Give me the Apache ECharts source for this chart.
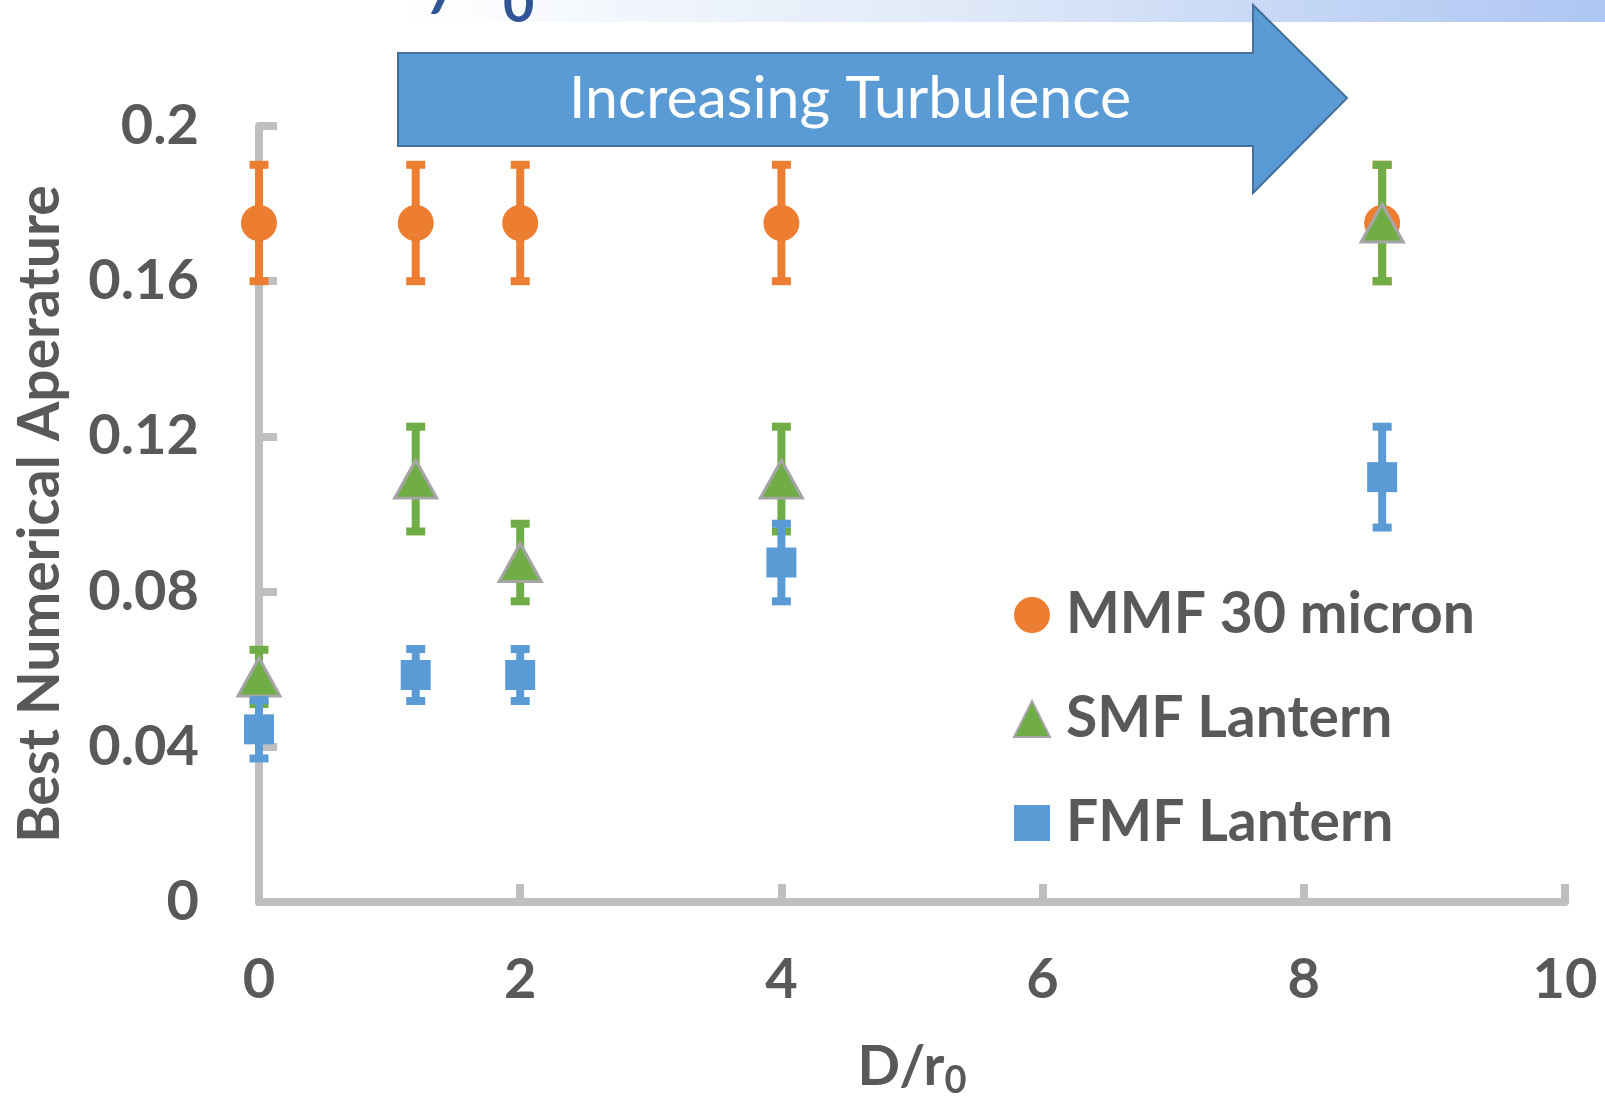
<!DOCTYPE html>
<html>
<head>
<meta charset="utf-8">
<script src="https://cdn.jsdelivr.net/npm/echarts@6/dist/echarts.min.js"></script>
<style>
html,body{margin:0;padding:0;background:#fff;overflow:hidden;}
#chart{width:1605px;height:1099px;}
</style>
</head>
<body>
<div id="chart"></div>
<script>
// ---- Data ----
const seriesNames = ['MMF 30 micron', 'SMF Lantern', 'FMF Lantern'];
const xValues = [0, 1.2, 2, 4, 8.6];               // D/r0
const mmfNA  = [0.175, 0.175, 0.175, 0.175, 0.175];
const mmfErr = [0.015, 0.015, 0.015, 0.015, 0.015];
const smfNA  = [0.058, 0.109, 0.0875, 0.109, 0.175];
const smfErr = [0.007, 0.0135, 0.01, 0.0135, 0.015];
const fmfNA  = [0.0445, 0.0585, 0.0585, 0.0875, 0.1095];
const fmfErr = [0.0075, 0.0067, 0.0067, 0.01, 0.013];
const yTickLabels = ['0', '0.04', '0.08', '0.12', '0.16', '0.2'];
const xTickLabels = ['0', '2', '4', '6', '8', '10'];
const arrowText = 'Increasing Turbulence';
const yAxisTitle = 'Best Numerical Aperature';

const colors = ['#ed7d31', '#70ad47', '#5b9bd5'];
const FONT = 'Lato';
const TEXT = '#595959';
const AXIS = '#bfbfbf';

function pts(ys, errs) { return xValues.map((x, i) => [x, ys[i], errs[i]]); }

function errRender(color) {
  return function (params, api) {
    const x = api.value(0), y = api.value(1), e = api.value(2);
    const top = api.coord([x, y + e]);
    const bot = api.coord([x, y - e]);
    const capW = 19, capH = 8, lw = 8;
    return {
      type: 'group',
      children: [
        { type: 'rect', shape: { x: top[0] - lw / 2, y: top[1], width: lw, height: bot[1] - top[1] }, style: { fill: color } },
        { type: 'rect', shape: { x: top[0] - capW / 2, y: top[1] - capH / 2, width: capW, height: capH }, style: { fill: color } },
        { type: 'rect', shape: { x: bot[0] - capW / 2, y: bot[1] - capH / 2, width: capW, height: capH }, style: { fill: color } }
      ]
    };
  };
}

const datasets = [pts(mmfNA, mmfErr), pts(smfNA, smfErr), pts(fmfNA, fmfErr)];
const symbols = ['circle', 'triangle', 'rect'];
const sizes = [36, [42, 38], 30];

const series = [];
datasets.forEach((d, i) => {
  series.push({
    type: 'custom', name: seriesNames[i] + ' err', renderItem: errRender(colors[i]),
    data: d, encode: { x: 0, y: 1 }, z: 2 + i * 2, silent: true
  });
  series.push({
    type: 'scatter', name: seriesNames[i], data: d.map(p => [p[0], p[1]]),
    symbol: symbols[i], symbolSize: sizes[i], z: 3 + i * 2,
    itemStyle: i === 1 ? { color: colors[i], borderColor: '#a5a5a5', borderWidth: 3, opacity: 1 }
                       : { color: colors[i], opacity: 1 }
  });
});

const chart = echarts.init(document.getElementById('chart'), null, { renderer: 'canvas' });
chart.setOption({
  animation: false,
  backgroundColor: '#ffffff',
  grid: { left: 259, right: 40, top: 126, bottom: 197, containLabel: false, outerBoundsMode: 'none' },
  xAxis: {
    type: 'value', min: 0, max: 10, interval: 2,
    name: 'D/r{sub|0}', nameLocation: 'middle', nameGap: 132,
    nameTextStyle: {
      color: TEXT, fontFamily: FONT, fontWeight: 'bold', fontSize: 56,
      rich: { sub: { color: TEXT, fontFamily: FONT, fontWeight: 'bold', fontSize: 38, verticalAlign: 'bottom', padding: [28, 0, 0, 0] } }
    },
    axisLine: { show: true, lineStyle: { color: AXIS, width: 8 } },
    axisTick: { show: true, inside: true, length: 18, lineStyle: { color: AXIS, width: 8 } },
    axisLabel: { color: TEXT, fontFamily: FONT, fontWeight: 'bold', fontSize: 56, margin: 50,
      formatter: (v) => xTickLabels[Math.round(v / 2)] },
    splitLine: { show: false }
  },
  yAxis: {
    type: 'value', min: 0, max: 0.2, interval: 0.04,
    name: yAxisTitle, nameLocation: 'middle', nameRotate: 90, nameGap: 190,
    nameTextStyle: { color: TEXT, fontFamily: FONT, fontWeight: 'bold', fontSize: 57 },
    axisLine: { show: true, lineStyle: { color: AXIS, width: 8 } },
    axisTick: { show: true, inside: true, length: 18, lineStyle: { color: AXIS, width: 8 } },
    axisLabel: { color: TEXT, fontFamily: FONT, fontWeight: 'bold', fontSize: 56, margin: 60,
      formatter: (v) => yTickLabels[Math.round(v / 0.04)] },
    splitLine: { show: false }
  },
  legend: {
    data: seriesNames, orient: 'vertical', left: 1008, top: 580,
    itemWidth: 36, itemHeight: 36, itemGap: 44,
    textStyle: { color: TEXT, fontFamily: FONT, fontWeight: 'bold', fontSize: 57, lineHeight: 60, padding: [0, 0, 0, 11] }
  },
  graphic: [
    { type: 'rect', shape: { x: 0, y: 0, width: 1605, height: 22 }, z: 0,
      style: { fill: new echarts.graphic.LinearGradient(0, 0, 1, 0, [
        { offset: 0, color: '#ffffff' }, { offset: 0.25, color: '#ffffff' }, { offset: 0.6, color: '#dfe9f8' }, { offset: 1, color: '#aec6f3' }]) } },
    { type: 'text', x: 432, y: 24, z: 1,
      style: { text: '/', fill: '#2f5597', font: 'italic bold 76px Lato', textAlign: 'left', textVerticalAlign: 'bottom' } },
    { type: 'text', x: 503, y: 32, z: 1,
      style: { text: '0', fill: '#2f5597', font: 'bold 54px Lato', textAlign: 'left', textVerticalAlign: 'bottom' } },
    { type: 'polygon', z: 10,
      shape: { points: [[398, 53], [1253, 53], [1253, 5], [1347, 98], [1253, 193], [1253, 146], [398, 146]] },
      style: { fill: '#5b9bd5', stroke: '#41719c', lineWidth: 2 } },
    { type: 'text', x: 850, y: 99, z: 11,
      style: { text: arrowText, fill: '#ffffff', font: '59px Lato', textAlign: 'center', textVerticalAlign: 'middle' } }
  ],
  series: series
});
</script>
</body>
</html>
